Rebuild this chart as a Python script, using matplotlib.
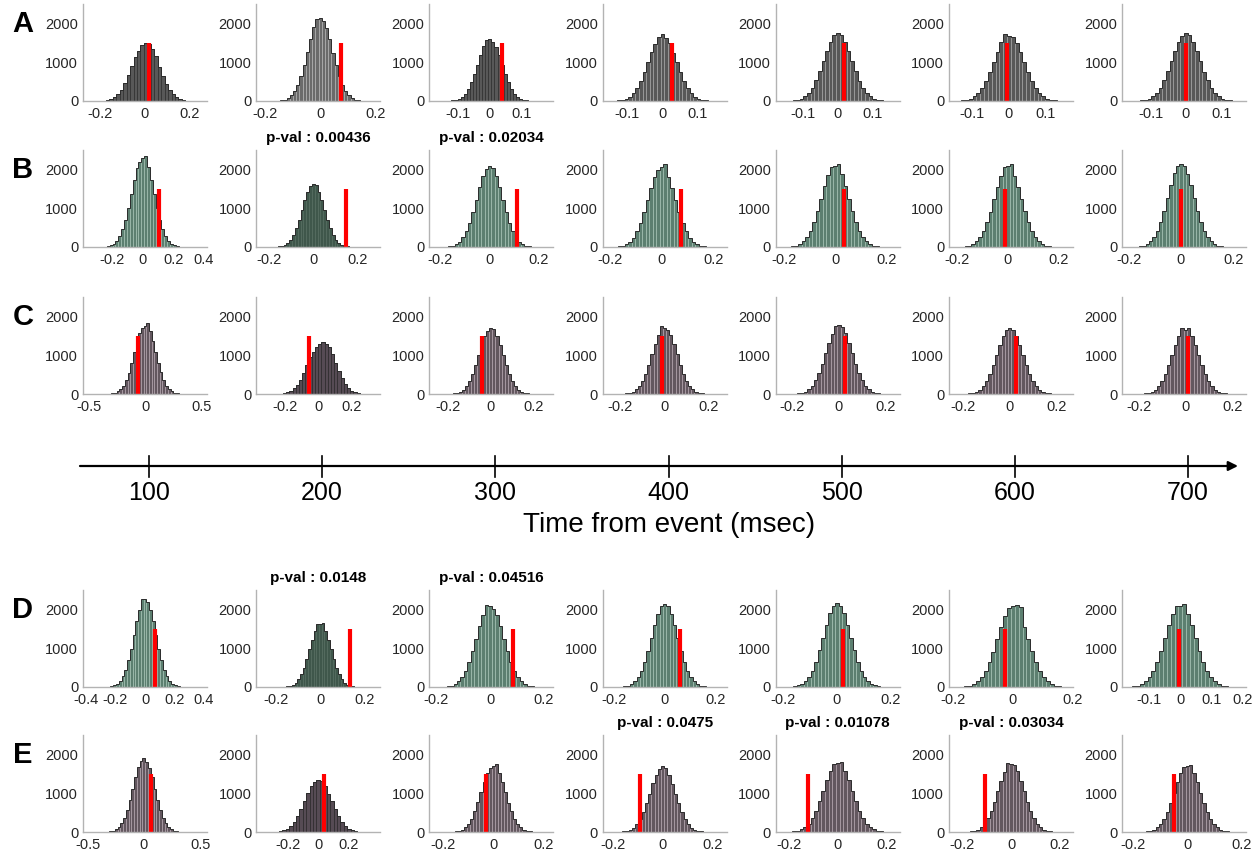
import numpy as np
import matplotlib.pyplot as plt

plt.rcParams['font.family'] = ['Liberation Sans', 'DejaVu Sans']

# ---------------- data ----------------
row_names = ['A', 'B', 'C', 'D', 'E']
times = [100, 200, 300, 400, 500, 600, 700]
time_label = 'Time from event (msec)'

# axis ranges of each panel
xlim_A = [(-0.276, 0.28), (-0.232, 0.218), (-0.19, 0.2), (-0.171, 0.183), (-0.177, 0.177), (-0.162, 0.173), (-0.18, 0.17)]
xlim_B = [(-0.39, 0.42), (-0.26, 0.305), (-0.245, 0.26), (-0.227, 0.25), (-0.23, 0.25), (-0.23, 0.255), (-0.225, 0.25)]
xlim_C = [(-0.55, 0.55), (-0.375, 0.375), (-0.285, 0.29), (-0.28, 0.28), (-0.27, 0.26), (-0.26, 0.27), (-0.27, 0.26)]
xlim_D = [(-0.42, 0.42), (-0.29, 0.27), (-0.225, 0.235), (-0.243, 0.243), (-0.226, 0.233), (-0.212, 0.2), (-0.185, 0.21)]
xlim_E = [(-0.54, 0.56), (-0.41, 0.41), (-0.255, 0.24), (-0.24, 0.256), (-0.253, 0.253), (-0.255, 0.255), (-0.24, 0.217)]

# x tick values
t2 = [-0.2, 0, 0.2]
t1 = [-0.1, 0, 0.1]
ticks_A = [t2, t2, t1, t1, t1, t1, t1]
ticks_B = [[-0.2, 0, 0.2, 0.4], t2, t2, t2, t2, t2, t2]
ticks_C = [[-0.5, 0, 0.5], t2, t2, t2, t2, t2, t2]
ticks_D = [[-0.4, -0.2, 0, 0.2, 0.4], t2, t2, t2, t2, t2, [-0.1, 0, 0.1, 0.2]]
ticks_E = [[-0.5, 0, 0.5], t2, t2, t2, t2, t2, t2]

# observed value (red bar)
obs_A = [0.022, 0.076, 0.037, 0.028, 0.017, -0.005, 0.0]
obs_B = [0.105, 0.15, 0.11, 0.075, 0.035, -0.012, 0.0]
obs_C = [-0.06, -0.055, -0.04, -0.01, 0.025, 0.025, 0.012]
obs_D = [0.068, 0.135, 0.085, 0.059, 0.022, -0.026, -0.005]
obs_E = [0.062, 0.04, -0.028, -0.092, -0.122, -0.107, -0.048]
obs_height = 1500

# histogram bin range and counts (31 bins each)
range_A = [(-0.235, 0.245), (-0.18, 0.18), (-0.15, 0.15), (-0.16, 0.16), (-0.16, 0.16), (-0.16, 0.16), (-0.16, 0.16)]
range_B = [(-0.29, 0.29), (-0.2, 0.2), (-0.21, 0.21), (-0.21, 0.21), (-0.21, 0.21), (-0.21, 0.21), (-0.2, 0.2)]
range_C = [(-0.37, 0.37), (-0.29, 0.31), (-0.22, 0.22), (-0.22, 0.22), (-0.22, 0.22), (-0.22, 0.22), (-0.22, 0.22)]
range_D = [(-0.29, 0.29), (-0.19, 0.19), (-0.2, 0.2), (-0.2, 0.2), (-0.2, 0.2), (-0.2, 0.2), (-0.19, 0.19)]
range_E = [(-0.38, 0.38), (-0.35, 0.35), (-0.19, 0.19), (-0.2, 0.2), (-0.23, 0.23), (-0.21, 0.21), (-0.19, 0.19)]

counts_A = [
    [1, 2, 5, 12, 27, 54, 101, 179, 294, 460, 665, 900, 1130, 1300, 1440, 1505, 1470, 1330, 1150, 880, 640, 450, 290, 175, 100, 55, 27, 12, 5, 2, 1],
    [1, 3, 8, 18, 38, 77, 145, 256, 421, 649, 935, 1262, 1593, 1900, 2110, 2150, 2060, 1870, 1590, 1250, 925, 640, 420, 255, 145, 77, 38, 18, 8, 3, 1],
    [1, 2, 6, 13, 28, 57, 108, 190, 314, 483, 696, 939, 1190, 1420, 1560, 1600, 1530, 1390, 1180, 930, 700, 480, 310, 190, 108, 57, 28, 13, 6, 2, 1],
    [1, 3, 6, 14, 30, 61, 115, 202, 333, 513, 740, 998, 1260, 1480, 1650, 1720, 1630, 1490, 1250, 1000, 735, 515, 330, 200, 115, 61, 30, 14, 6, 3, 1],
    [1, 3, 6, 15, 31, 63, 118, 208, 343, 529, 761, 1027, 1297, 1531, 1700, 1750, 1690, 1520, 1300, 1020, 765, 525, 345, 205, 118, 63, 31, 15, 6, 3, 1],
    [1, 3, 6, 14, 31, 62, 116, 205, 337, 519, 748, 1010, 1275, 1510, 1720, 1680, 1650, 1500, 1270, 1015, 745, 520, 335, 205, 116, 62, 31, 14, 6, 3, 1],
    [1, 3, 6, 15, 31, 63, 118, 208, 343, 529, 761, 1027, 1297, 1531, 1680, 1750, 1700, 1530, 1290, 1030, 760, 530, 340, 210, 118, 63, 31, 15, 6, 3, 1],
]
counts_B = [
    [1, 3, 8, 19, 41, 83, 157, 277, 457, 704, 1014, 1368, 1727, 2039, 2200, 2300, 2340, 2050, 1720, 1370, 1010, 700, 455, 275, 157, 83, 41, 19, 8, 3, 1],
    [1, 2, 6, 13, 29, 58, 109, 193, 318, 489, 705, 951, 1200, 1418, 1580, 1620, 1590, 1420, 1200, 950, 705, 490, 318, 193, 109, 58, 29, 13, 6, 2, 1],
    [1, 3, 7, 17, 37, 74, 140, 248, 408, 628, 905, 1221, 1541, 1820, 2011, 2080, 2040, 1830, 1540, 1215, 905, 630, 405, 248, 140, 74, 37, 17, 7, 3, 1],
    [1, 3, 7, 17, 36, 73, 138, 244, 402, 619, 892, 1203, 1519, 1794, 1990, 2050, 2130, 1800, 1520, 1200, 890, 620, 400, 244, 138, 73, 36, 17, 7, 3, 1],
    [1, 3, 8, 18, 38, 76, 144, 253, 417, 643, 927, 1250, 1578, 1864, 2060, 2100, 2130, 1870, 1580, 1250, 930, 640, 415, 253, 144, 76, 38, 18, 8, 3, 1],
    [1, 3, 8, 17, 37, 75, 142, 250, 412, 634, 914, 1233, 1556, 1838, 2050, 2100, 2150, 1840, 1555, 1235, 915, 635, 410, 250, 142, 75, 37, 17, 8, 3, 1],
    [1, 3, 8, 18, 38, 77, 145, 256, 421, 649, 935, 1262, 1593, 1900, 2080, 2150, 2100, 1880, 1590, 1260, 935, 650, 420, 256, 145, 77, 38, 18, 8, 3, 1],
]
counts_C = [
    [1, 3, 7, 15, 33, 66, 123, 218, 359, 553, 796, 1074, 1356, 1580, 1700, 1760, 1830, 1620, 1360, 1075, 795, 555, 360, 218, 123, 66, 33, 15, 7, 3, 1],
    [1, 2, 4, 9, 20, 42, 80, 145, 240, 370, 540, 740, 950, 1080, 1200, 1280, 1350, 1300, 1200, 1020, 800, 580, 400, 260, 160, 90, 48, 24, 11, 5, 2],
    [1, 3, 6, 14, 30, 61, 115, 202, 333, 513, 740, 998, 1260, 1500, 1620, 1700, 1680, 1490, 1260, 995, 740, 515, 333, 202, 115, 61, 30, 14, 6, 3, 1],
    [1, 3, 6, 14, 31, 62, 117, 207, 341, 525, 757, 1021, 1289, 1523, 1740, 1700, 1640, 1520, 1290, 1020, 757, 525, 340, 207, 117, 62, 31, 14, 6, 3, 1],
    [1, 3, 6, 15, 32, 64, 120, 212, 349, 538, 774, 1045, 1319, 1558, 1740, 1780, 1720, 1560, 1320, 1045, 775, 538, 349, 212, 120, 64, 32, 15, 6, 3, 1],
    [1, 3, 6, 14, 30, 61, 115, 203, 335, 516, 744, 1004, 1267, 1496, 1654, 1710, 1660, 1500, 1265, 1005, 745, 515, 335, 203, 115, 61, 30, 14, 6, 3, 1],
    [1, 3, 6, 14, 30, 61, 115, 202, 333, 513, 740, 998, 1260, 1488, 1690, 1660, 1700, 1490, 1260, 1000, 740, 513, 333, 202, 115, 61, 30, 14, 6, 3, 1],
]
counts_D = [
    [1, 3, 8, 19, 41, 82, 154, 271, 447, 689, 992, 1338, 1689, 1995, 2260, 2280, 2200, 1990, 1690, 1340, 990, 690, 447, 271, 154, 82, 41, 19, 8, 3, 1],
    [1, 2, 6, 14, 29, 59, 111, 196, 323, 498, 718, 969, 1223, 1444, 1620, 1630, 1650, 1440, 1220, 970, 718, 498, 323, 196, 111, 59, 29, 14, 6, 2, 1],
    [1, 3, 8, 18, 38, 76, 143, 252, 416, 640, 922, 1244, 1571, 1855, 2120, 2080, 2000, 1850, 1570, 1245, 920, 640, 416, 252, 143, 76, 38, 18, 8, 3, 1],
    [1, 3, 8, 18, 38, 77, 145, 256, 421, 649, 935, 1262, 1593, 1881, 2079, 2150, 2080, 1880, 1590, 1260, 935, 650, 420, 256, 145, 77, 38, 18, 8, 3, 1],
    [1, 3, 8, 18, 39, 78, 146, 258, 425, 655, 944, 1274, 1608, 1899, 2098, 2170, 2100, 1900, 1610, 1275, 945, 655, 425, 258, 146, 78, 39, 18, 8, 3, 1],
    [1, 3, 8, 17, 37, 75, 142, 250, 412, 634, 914, 1233, 1556, 1838, 2031, 2100, 2110, 2050, 1556, 1235, 915, 635, 410, 250, 142, 75, 37, 17, 8, 3, 1],
    [1, 3, 8, 18, 38, 77, 145, 256, 421, 649, 935, 1262, 1593, 1881, 2079, 2100, 2150, 1880, 1590, 1260, 935, 650, 420, 256, 145, 77, 38, 18, 8, 3, 1],
]
counts_E = [
    [1, 3, 7, 16, 34, 68, 128, 226, 372, 574, 827, 1115, 1408, 1663, 1837, 1900, 1800, 1660, 1405, 1115, 825, 575, 372, 226, 128, 68, 34, 16, 7, 3, 1],
    [1, 2, 5, 11, 24, 48, 90, 159, 263, 405, 583, 787, 993, 1173, 1300, 1340, 1320, 1180, 990, 790, 583, 405, 263, 159, 90, 48, 24, 11, 5, 2, 1],
    [1, 3, 6, 15, 31, 63, 118, 208, 343, 529, 761, 1027, 1297, 1531, 1640, 1700, 1750, 1530, 1300, 1025, 760, 530, 343, 208, 118, 63, 31, 15, 6, 3, 1],
    [1, 3, 6, 14, 30, 61, 114, 201, 331, 510, 735, 992, 1252, 1479, 1634, 1690, 1650, 1480, 1250, 990, 735, 510, 331, 201, 114, 61, 30, 14, 6, 3, 1],
    [1, 3, 7, 15, 32, 65, 122, 215, 355, 547, 787, 1062, 1341, 1584, 1750, 1780, 1810, 1585, 1340, 1060, 787, 547, 355, 215, 122, 65, 32, 15, 7, 3, 1],
    [1, 3, 6, 15, 32, 64, 120, 212, 349, 538, 774, 1045, 1319, 1558, 1780, 1760, 1721, 1560, 1320, 1045, 775, 538, 349, 212, 120, 64, 32, 15, 6, 3, 1],
    [1, 3, 6, 14, 31, 62, 117, 206, 339, 522, 753, 1016, 1282, 1514, 1673, 1700, 1730, 1515, 1280, 1015, 753, 522, 339, 206, 117, 62, 31, 14, 6, 3, 1],
]

# significant panels: (row, column) -> p-value
pvals = {(1, 1): '0.00436', (1, 2): '0.02034',
         (3, 1): '0.0148', (3, 2): '0.04516',
         (4, 3): '0.0475', (4, 4): '0.01078', (4, 5): '0.03034'}

xlims = [xlim_A, xlim_B, xlim_C, xlim_D, xlim_E]
ticks = [ticks_A, ticks_B, ticks_C, ticks_D, ticks_E]
obs = [obs_A, obs_B, obs_C, obs_D, obs_E]
ranges = [range_A, range_B, range_C, range_D, range_E]
counts = [counts_A, counts_B, counts_C, counts_D, counts_E]

# ---------------- style ----------------
grey = ('#585858', '#a8a8a8')
green = ('#5c7f70', '#a9c7b8')
green_dk = ('#3f574b', '#50695c')
purple = ('#63575f', '#b9a9b3')
purple_dk = ('#564b54', '#1a1a1a')
row_styles = [
    [('#585858', '#1e1e1e'), ('#6a6a6a', '#b8b8b8'), ('#585858', '#1e1e1e'), grey, grey, grey, grey],
    [green, green_dk, green, green, green, green, green],
    [purple, purple_dk, purple, purple, purple, purple, purple],
    [green, green_dk, green, green, green, green, green],
    [purple, purple_dk, purple, purple, purple, purple, purple],
]

W, H = 1253, 860
fig = plt.figure(figsize=(W / 100, H / 100), dpi=100)

zero_px = [101, 247, 394, 687, 832]
ax_h = 97
ax_w = 124
left_px = [83 + 173.2 * j for j in range(7)]

for i, rn in enumerate(row_names):
    for j in range(7):
        ax = fig.add_axes([left_px[j] / W, 1 - zero_px[i] / H, ax_w / W, ax_h / H])
        c = np.array(counts[i][j])
        lo, hi = ranges[i][j]
        edges = np.linspace(lo, hi, len(c) + 1)
        face, edge = row_styles[i][j]
        ax.bar(edges[:-1], c, width=np.diff(edges), align='edge',
               color=face, edgecolor=edge, linewidth=0.4)
        ax.stairs(c, edges, color='#2b2b2b', linewidth=0.7)
        x = obs[i][j]
        ax.plot([x, x], [0, obs_height], color='#ff0000', lw=3,
                solid_capstyle='butt')
        ax.set_xlim(*xlims[i][j])
        ax.set_ylim(0, 2500)
        ax.set_yticks([0, 1000, 2000])
        ax.set_xticks(ticks[i][j])
        ax.set_xticklabels([f'{v:g}' for v in ticks[i][j]])
        for s in ['top', 'right']:
            ax.spines[s].set_visible(False)
        for s in ['left', 'bottom']:
            ax.spines[s].set_color('#b3b3b3')
            ax.spines[s].set_linewidth(1.0)
        ax.tick_params(length=0, labelsize=10.5, labelcolor='#262626')
        ax.tick_params(axis='x', pad=4.5)
        ax.tick_params(axis='y', pad=3.5)
        if (i, j) in pvals:
            ax.set_title('p-val : ' + pvals[(i, j)], fontsize=11,
                         fontweight='bold', pad=6)
    fig.text(23 / W, 1 - (zero_px[i] - ax_h + 20) / H, rn, fontsize=21,
             fontweight='bold', ha='center', va='center')

# ---------------- timeline ----------------
px_per_ms = (1188 - 149) / 600.0
t0 = 100 - 149 / px_per_ms
t1_ = 100 + (W - 149) / px_per_ms
tl = fig.add_axes([0, 1 - 540 / H, 1, 100 / H])
tl.set_xlim(t0, t1_)
tl.set_ylim(100, 0)
tl.axis('off')
tl.annotate('', xy=(100 + (1238 - 149) / px_per_ms, 26),
            xytext=(100 + (80 - 149) / px_per_ms, 26),
            arrowprops=dict(arrowstyle='-|>', color='k', lw=1.6,
                            mutation_scale=14, shrinkA=0, shrinkB=0))
narrow = ['Liberation Sans Narrow', 'Liberation Sans', 'DejaVu Sans']
for t in times:
    tl.plot([t, t], [16, 37], color='k', lw=1.2)
    tl.text(t, 53, str(t), ha='center', va='center', fontsize=18,
            family=narrow)
tl.text(100 + (669 - 149) / px_per_ms, 85, time_label, ha='center',
        va='center', fontsize=20, family=narrow)

fig.savefig('out.png', dpi=100)
